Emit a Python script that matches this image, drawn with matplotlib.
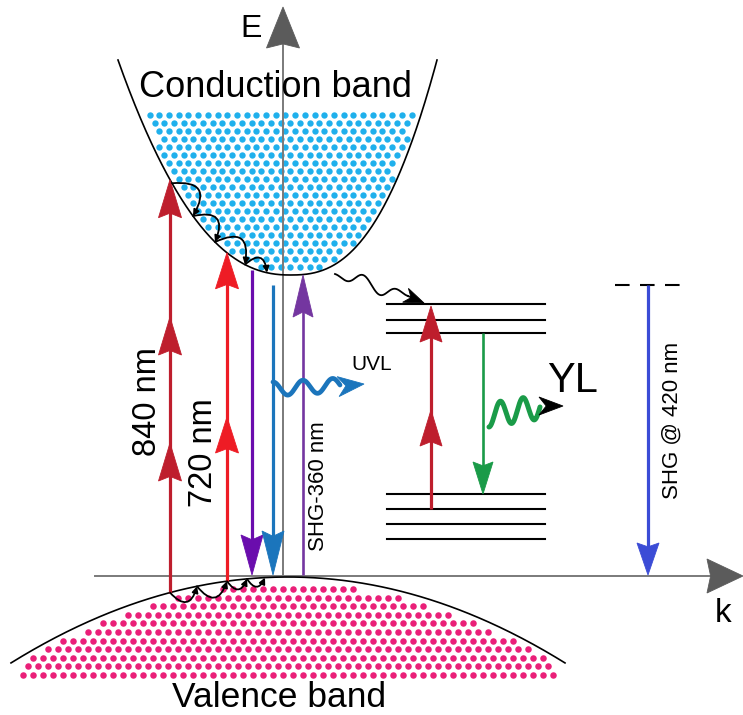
import numpy as np
import matplotlib
matplotlib.use("Agg")
import matplotlib.pyplot as plt
from matplotlib.patches import Polygon

plt.rcParams['font.family'] = ['Liberation Sans', 'DejaVu Sans']

# ---------------- diagram description (pixel units) ----------------
W, H = 743, 715
E_AXIS_X = 283
K_AXIS_Y = 576

# conduction band: vertex and left/right branch shape (power law)
CB_VERTEX = (290, 275)
CB_LEFT = (172, 215, 2.26)    # (dx at top, dy at top, exponent)
CB_RIGHT = (147, 215, 2.54)
CB_TOP_Y = 60
CB_DOT_TOP = 115

# valence band: vertex and curvature
VB_VERTEX = (288, 577)
VB_CURV = 0.00112
VB_X_RANGE = (11, 565)
VB_DOT_BOTTOM = 675

# excitation / emission arrows: x, start y, end y (vb/cb -> on band), head tips, colour
arrow_names = ["840 nm", "720 nm", "purple_down", "blue_down", "SHG-360 nm", "defect_red", "green", "SHG @ 420 nm"]
arrow_x = [170, 227, 252, 273, 303, 431, 483, 648]
arrow_from = ["vb", "vb", 270, 285, 575, 509, 333, 285]
arrow_to = ["cb", "cb", 575, 575, 275, 306, 494, 575]
arrow_heads = [["top", 317, 443], ["top", 417], ["end"], ["end"], ["end"], ["end", 410], ["end"], ["end"]]
arrow_colors = ["#be1e2d", "#ee1c25", "#6a0dad", "#1b75bc", "#7436a0", "#be1e2d", "#1a9b48", "#3b4cd6"]
arrow_lw = [2.3, 2.3, 2.3, 2.3, 1.9, 2.3, 1.9, 2.3]
head_len = [38, 36, 40, 44, 42, 36, 32, 32]
head_half = [11.5, 11.5, 11, 11, 10, 11, 10, 11]

# defect levels
levels_upper = [304, 320, 333]
levels_lower = [494, 509, 524, 539]
levels_x = (387, 545)

# hot carrier relaxation steps (x positions on band edges)
cb_steps_x = [172, 193, 215, 245, 267]
vb_steps_x = [170, 197, 227, 247, 265]

# ---------------- helpers ----------------
def cb_y(x):
    x = np.asarray(x, float)
    xc, yc = CB_VERTEX
    dx = x - xc
    dl, hl, pl = CB_LEFT
    dr, hr, pr = CB_RIGHT
    yl = yc - hl * (np.abs(dx) / dl) ** pl
    yr = yc - hr * (np.abs(dx) / dr) ** pr
    return np.where(dx < 0, yl, yr)

def cb_x_bounds(y):
    xc, yc = CB_VERTEX
    dl, hl, pl = CB_LEFT
    dr, hr, pr = CB_RIGHT
    h = max(yc - y, 0)
    return xc - dl * (h / hl) ** (1 / pl), xc + dr * (h / hr) ** (1 / pr)

def vb_y(x):
    x = np.asarray(x, float)
    return VB_VERTEX[1] + VB_CURV * (x - VB_VERTEX[0]) ** 2

def stealth(ax, tip, direction, length, half, color, notch=0.12, z=5):
    ux, uy = direction
    n = np.hypot(ux, uy)
    ux, uy = ux / n, uy / n
    px, py = -uy, ux
    tx, ty = tip
    bx, by = tx - ux * length, ty - uy * length
    nx, ny = tx - ux * length * (1 - notch), ty - uy * length * (1 - notch)
    poly = [(tx, ty), (bx + px * half, by + py * half), (nx, ny), (bx - px * half, by - py * half)]
    ax.add_patch(Polygon(poly, closed=True, fc=color, ec=color, lw=0.6, zorder=z))

# ---------------- figure ----------------
fig = plt.figure(figsize=(W / 100, H / 100), dpi=100)
ax = fig.add_axes([0, 0, 1, 1])
ax.set_xlim(0, W)
ax.set_ylim(H, 0)
ax.axis("off")

# conduction band dots
dot_dx, dot_dy = 9.7, 8.0
rows = np.arange(CB_DOT_TOP, CB_VERTEX[1] - 3, dot_dy)
xs_all, ys_all = [], []
for i, y in enumerate(rows):
    xl, xr = cb_x_bounds(y)
    off = (i % 2) * dot_dx / 2
    xs = np.arange(140 + off, 430, dot_dx)
    xs = xs[(xs > xl + 5) & (xs < xr - 4)]
    xs_all += list(xs)
    ys_all += [y] * len(xs)
ax.scatter(xs_all, ys_all, s=21, c="#1fb0ec", lw=0, zorder=1)

# valence band dots
rows = np.arange(VB_DOT_BOTTOM, VB_VERTEX[1], -8.6)
xs_all, ys_all = [], []
for i, y in enumerate(rows):
    off = (i % 2) * 5.0
    xs = np.arange(23 + off, 556, 10.0)
    xs = xs[vb_y(xs) + 6 < y]
    xs_all += list(xs)
    ys_all += [y] * len(xs)
ax.scatter(xs_all, ys_all, s=22, c="#ea1f78", lw=0, zorder=1)

# band curves
xx = np.linspace(*cb_x_bounds(CB_TOP_Y), 400)
ax.plot(xx, cb_y(xx), color="black", lw=1.2, zorder=3)
xx = np.linspace(*VB_X_RANGE, 400)
ax.plot(xx, vb_y(xx), color="black", lw=1.2, zorder=3)

# axes
ax.plot([E_AXIS_X, E_AXIS_X], [K_AXIS_Y, 40], color="#7a7a7a", lw=1.4, zorder=2)
stealth(ax, (E_AXIS_X, 7), (0, -1), 41, 16.5, "#5b5b5b", notch=0.1)
ax.plot([95, 712], [K_AXIS_Y, K_AXIS_Y], color="#7a7a7a", lw=1.4, zorder=2)
stealth(ax, (743, K_AXIS_Y), (1, 0), 36, 17, "#5b5b5b", notch=0.1)

# defect levels
for y in levels_upper + levels_lower:
    ax.plot(levels_x, [y, y], color="black", lw=1.5, zorder=3)

# vertical arrows
for x, f, t, heads, c, lw, hl, hh in zip(arrow_x, arrow_from, arrow_to, arrow_heads,
                                         arrow_colors, arrow_lw, head_len, head_half):
    y0 = float(vb_y(x)) if f == "vb" else f
    y1 = float(cb_y(x)) if t == "cb" else t
    d = -1 if y1 < y0 else 1
    ax.plot([x, x], [y0, y1 - d * hl * 0.5], color=c, lw=lw, zorder=4, solid_capstyle="butt")
    for h in heads:
        tip = y1 if h in ("top", "end") else h
        stealth(ax, (x, tip), (0, d), hl, hh, c)

# dashed virtual level for SHG @ 420 nm
ax.plot([615, 683], [285, 285], color="black", lw=1.5, dashes=(7, 5), zorder=3)

# hot carrier relaxation arcs
for a, b in zip(cb_steps_x[:-1], cb_steps_x[1:]):
    ax.annotate("", xy=(b, float(cb_y(b))), xytext=(a, float(cb_y(a))),
                arrowprops=dict(arrowstyle="-|>", color="black", lw=1.3,
                                connectionstyle="arc3,rad=-0.95", mutation_scale=9,
                                shrinkA=0, shrinkB=0), zorder=6)
for a, b in zip(vb_steps_x[:-1], vb_steps_x[1:]):
    ax.annotate("", xy=(b, float(vb_y(b))), xytext=(a, float(vb_y(a))),
                arrowprops=dict(arrowstyle="-|>", color="black", lw=1.3,
                                connectionstyle="arc3,rad=0.9", mutation_scale=9,
                                shrinkA=0, shrinkB=0), zorder=6)

# wiggly black transfer arrow from CB minimum to defect level
t = np.linspace(0, 1, 200)
x0, y0, x1, y1 = 335, 274, 408, 296
bx = x0 + (x1 - x0) * t
by = y0 + (y1 - y0) * t + 8 * np.sin(2 * np.pi * 2 * t) * np.sin(np.pi * t)
ax.plot(bx, by, color="black", lw=1.3, zorder=6)
ax.plot([408, 416], [296, 299.5], color="black", lw=1.3, zorder=6)
stealth(ax, (424, 303), (2.4, 1), 20, 7.5, "black", notch=0.3, z=7)

# UVL wave
t = np.linspace(0, 1, 200)
ux = 273 + (340 - 273) * t
uy = 389 - 4 * t + 7 * np.sin(2 * np.pi * 2.25 * t + np.pi / 2 + np.pi)
ax.plot(ux, uy, color="#1b75bc", lw=3.4, zorder=6, solid_capstyle="round")
stealth(ax, (364, 384), (1, -0.1), 26, 10, "#1b75bc", notch=0.3, z=7)

# YL wave
t = np.linspace(0, 1, 200)
gx = 489 + (540 - 489) * t
gy = 415 - 8 * t + 12 * np.sin(2 * np.pi * 2.25 * t + np.pi / 2)
ax.plot(gx, gy, color="#1a9b48", lw=3.6, zorder=6, solid_capstyle="round")
stealth(ax, (563, 406), (1, 0), 24, 9, "black", notch=0.3, z=7)

# text
ax.text(275, 97, "Conduction band", fontsize=26, ha="center", va="baseline")
ax.text(279, 707, "Valence band", fontsize=25.5, ha="center", va="baseline")
ax.text(251, 37, "E", fontsize=23, ha="center", va="baseline")
ax.text(723, 622, "k", fontsize=24, ha="center", va="baseline")
ax.text(148, 402, "840 nm", fontsize=23.5, rotation=90, ha="center", va="center")
ax.text(203, 453, "720 nm", fontsize=23.5, rotation=90, ha="center", va="center")
ax.text(318, 486, "SHG-360 nm", fontsize=16, rotation=90, ha="center", va="center")
ax.text(672, 420, "SHG @ 420 nm", fontsize=16, rotation=90, ha="center", va="center")
ax.text(351, 370, "UVL", fontsize=15, ha="left", va="baseline")
ax.text(547, 392, "YL", fontsize=30, ha="left", va="baseline")

fig.savefig("out.png", dpi=100)
